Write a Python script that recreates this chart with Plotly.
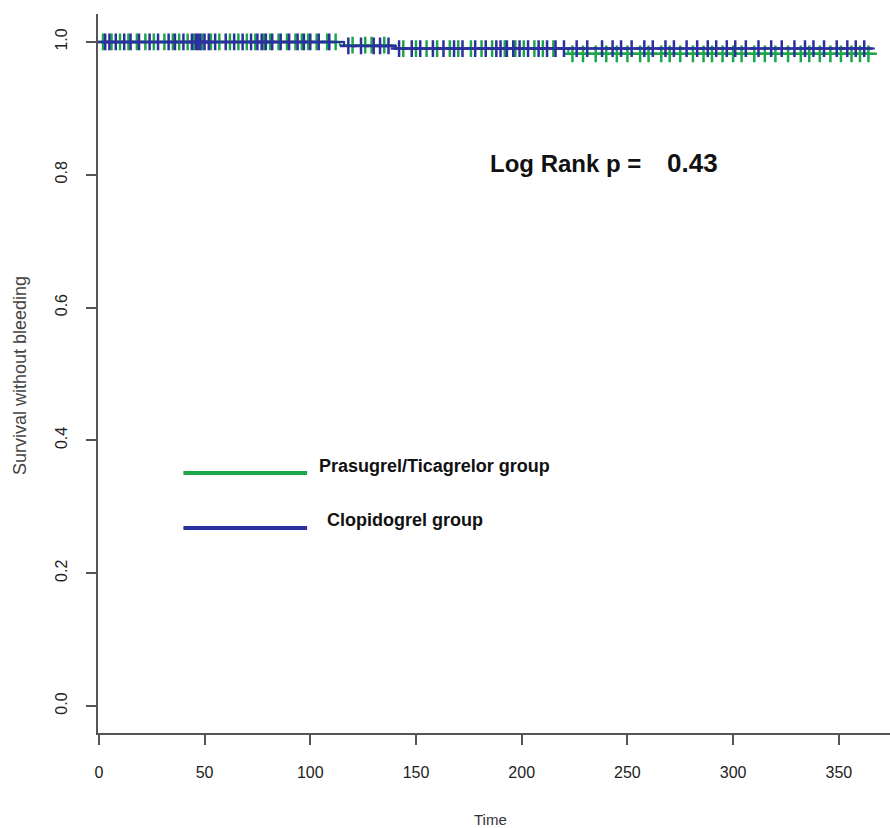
import plotly.graph_objects as go
import numpy as np

# Kaplan-Meier step data (event times and survival after each step)
green_times = [0, 114, 140, 222, 367]
green_surv = [1.0, 0.995, 0.990, 0.982, 0.982]
blue_times = [0, 116, 140, 367]
blue_surv = [1.0, 0.994, 0.990, 0.990]

# Censoring times (tick marks)
green_censor = [2, 6, 10, 14, 18, 22, 26, 31, 35, 38, 42, 45, 49, 53, 57, 62, 66, 70, 74, 78,
                81, 85, 89, 93, 96, 99, 103, 108, 112, 120, 126, 129, 135, 144, 150, 155, 160,
                166, 170, 176, 181, 186, 192, 197, 201, 206, 210, 215, 224, 229, 235, 240, 245,
                250, 256, 260, 266, 270, 275, 281, 286, 290, 295, 300, 304, 310, 315, 320, 326,
                332, 336, 341, 346, 351, 356, 360, 364]
blue_censor = [3, 5, 8, 12, 15, 19, 24, 28, 33, 36, 40, 44, 46, 47, 48, 50, 52, 55, 60, 64, 68,
               72, 75, 77, 79, 82, 86, 90, 94, 97, 100, 104, 109, 118, 124, 130, 133, 137, 142,
               148, 152, 158, 163, 168, 172, 178, 183, 188, 190, 193, 196, 199, 203, 208, 212,
               216, 220, 226, 231, 238, 243, 247, 252, 258, 262, 268, 272, 278, 283, 288, 292,
               297, 301, 306, 312, 318, 323, 329, 334, 338, 343, 349, 354, 358, 362]

groups = ["Prasugrel/Ticagrelor group", "Clopidogrel group"]
x_ticks = [0, 50, 100, 150, 200, 250, 300, 350]
y_ticks = [0.0, 0.2, 0.4, 0.6, 0.8, 1.0]
p_label = "Log Rank p ="
p_value = "0.43"

GREEN = "#1ba64c"
BLUE = "#2c2f9e"
FONT = "Liberation Sans, Arial"


def step_at(times, surv, t):
    idx = np.searchsorted(np.array(times), np.array(t), side="right") - 1
    return [surv[i] for i in idx]


fig = go.Figure()
for times, surv, cens, col, name in [
    (green_times, green_surv, green_censor, GREEN, groups[0]),
    (blue_times, blue_surv, blue_censor, BLUE, groups[1]),
]:
    fig.add_trace(go.Scatter(x=times, y=surv, mode="lines", line=dict(color=col, width=2, shape="hv"),
                             showlegend=False, name=name))
    fig.add_trace(go.Scatter(x=cens, y=step_at(times, surv, cens), mode="markers",
                             marker=dict(symbol="cross-thin-open", size=12, color=col,
                                         line=dict(color=col, width=2.5)),
                             showlegend=False, name=name))

# manual legend (as in the R plot)
leg_y = [0.351, 0.268]
for yv, col, name in zip(leg_y, [GREEN, BLUE], groups):
    fig.add_shape(type="line", x0=40, x1=98.5, y0=yv, y1=yv, xref="x", yref="y",
                  line=dict(color=col, width=4))
fig.add_annotation(x=103, y=0.362, xref="x", yref="y", text="<b>" + groups[0] + "</b>",
                   showarrow=False, xanchor="left", yanchor="middle",
                   font=dict(family=FONT, size=18, color="#111"))
fig.add_annotation(x=107, y=0.280, xref="x", yref="y", text="<b>" + groups[1] + "</b>",
                   showarrow=False, xanchor="left", yanchor="middle",
                   font=dict(family=FONT, size=18, color="#111"))
fig.add_annotation(x=184, y=0.817, xref="x", yref="y", text="<b>" + p_label + "</b>",
                   showarrow=False, xanchor="left", yanchor="middle",
                   font=dict(family=FONT, size=24, color="#111"))
fig.add_annotation(x=268, y=0.817, xref="x", yref="y", text="<b>" + p_value + "</b>",
                   showarrow=False, xanchor="left", yanchor="middle",
                   font=dict(family=FONT, size=26, color="#111"))

# axis titles
fig.add_annotation(x=(490 - 98) / 792, y=0, xref="paper", yref="paper", text="Time", showarrow=False,
                   yshift=-97, font=dict(family=FONT, size=15, color="#333"))
fig.add_annotation(x=0, y=(733 - 376) / 719, xref="paper", yref="paper", text="Survival without bleeding",
                   showarrow=False, textangle=-90, xshift=-90,
                   font=dict(family=FONT, size=18, color="#444"))

fig.update_layout(
    width=890, height=828,
    margin=dict(l=98, r=0, t=14, b=95),
    paper_bgcolor="white", plot_bgcolor="white",
    font=dict(family=FONT, color="#333"),
    xaxis=dict(range=[-0.4, 374.2], tickvals=x_ticks, ticktext=[str(v) for v in x_ticks],
               showgrid=False, zeroline=False, showline=True, linecolor="#555", linewidth=2,
               ticks="outside", ticklen=10, tickwidth=2, tickcolor="#555",
               tickfont=dict(size=16, color="#222"), ticklabelstandoff=14),
    yaxis=dict(range=[-0.0407, 1.042], tickvals=y_ticks, ticktext=[f"{v:.1f}" for v in y_ticks],
               showgrid=False, zeroline=False, showline=True, linecolor="#555", linewidth=2,
               ticks="outside", ticklen=10, tickwidth=2, tickcolor="#555", tickangle=-90,
               tickfont=dict(size=16, color="#222"), ticklabelstandoff=13),
)

fig.write_html("out.html")
